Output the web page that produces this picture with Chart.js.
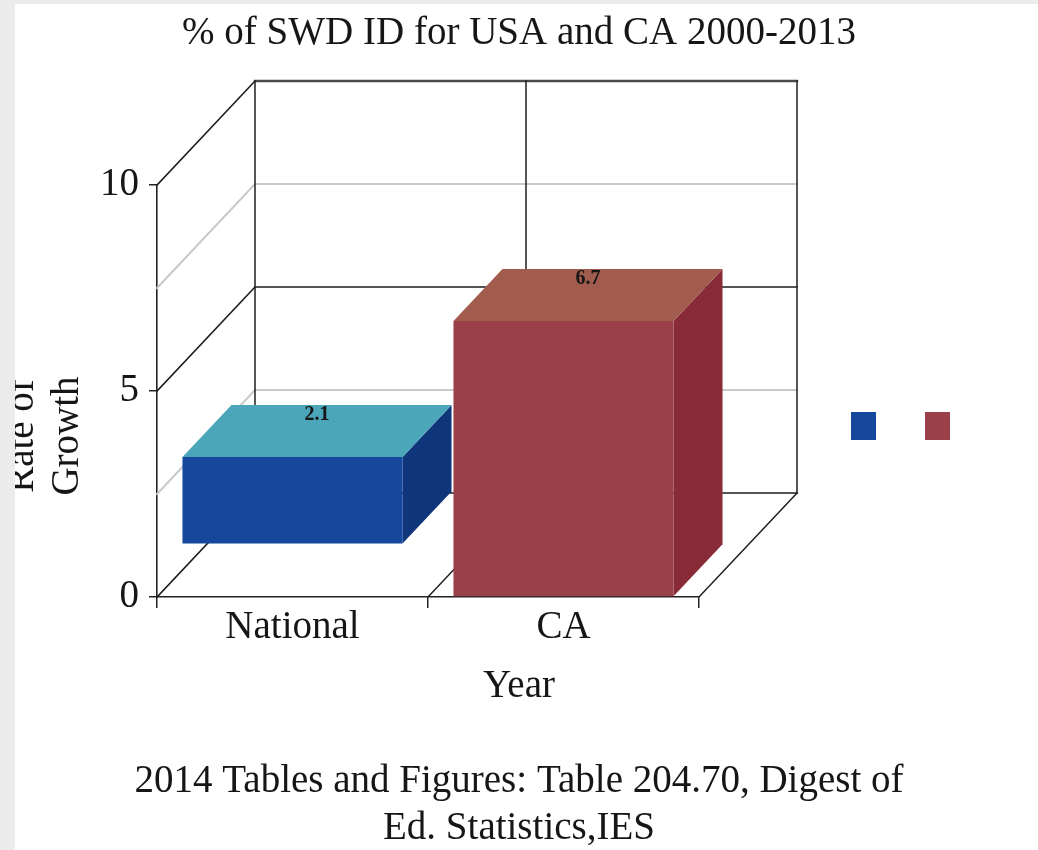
<!DOCTYPE html>
<html>
<head>
<meta charset="utf-8">
<script src="https://cdn.jsdelivr.net/npm/chart.js@4/dist/chart.umd.min.js"></script>
<style>
  html, body { margin: 0; padding: 0; background: #fff; }
  canvas { display: block; }
</style>
</head>
<body>
<canvas id="growthChart" width="1038" height="850"></canvas>
<script>
// ---- data ----
const categories = ['National', 'CA'];
const growthRate = [2.1, 6.7];
const columnStart = [1.3, 0];          // value where each column begins
const yTicks = [0, 5, 10];
const legendLabels = ['', ''];
const chartTitle = '% of SWD ID for USA and CA 2000-2013';
const yTitle = ['Rate of', 'Growth'];
const xTitle = 'Year';
const sourceNote = ['2014 Tables and Figures: Table 204.70, Digest of', 'Ed. Statistics,IES'];

// ---- styles ----
const FONT = 'Liberation Serif, Times New Roman, serif';
const INK = '#161616';
const faceColors = [
  { front: '#15489c', top: '#4aa6b8', side: '#0f357a' },
  { front: '#994049', top: '#a15c4e', side: '#882a38' }
];
const bigFont = { family: FONT, size: 39, weight: 'normal', lineHeight: 1.2 };

const datasets = categories.map((name, i) => ({
  label: legendLabels[i],
  data: categories.map((_, j) => (j === i ? [columnStart[i], columnStart[i] + growthRate[i]] : null)),
  backgroundColor: faceColors[i].front,
  borderWidth: 0,
  skipNull: true,
  categoryPercentage: 0.812,
  barPercentage: 1
}));

// Draws the box-shaped plot frame and extrudes the columns into blocks.
const box3d = {
  id: 'box3d',
  beforeDatasetsDraw(chart, args, opts) {
    const { ctx, chartArea: a, scales: { x, y } } = chart;
    const dx = opts.dx, dy = opts.dy;
    const half = (yTicks[1] - yTicks[0]) / 2;
    const y0 = y.getPixelForValue(y.min);
    const yTop = y.getPixelForValue(y.max);
    ctx.save();
    ctx.lineCap = 'square';

    // horizontal levels on side wall and back wall
    for (let v = y.min; v <= y.max + 1e-9; v += half) {
      const py = y.getPixelForValue(v);
      const major = yTicks.includes(v);
      ctx.strokeStyle = major ? opts.major : opts.minor;
      ctx.lineWidth = major ? 1.6 : 2;
      ctx.beginPath();
      ctx.moveTo(a.left, py);
      ctx.lineTo(a.left + dx, py + dy);
      ctx.lineTo(a.right + dx, py + dy);
      ctx.stroke();
    }
    // heavier top edge of the back wall
    ctx.strokeStyle = '#4a4a4a';
    ctx.lineWidth = 2.4;
    ctx.beginPath();
    ctx.moveTo(a.left + dx, yTop + dy);
    ctx.lineTo(a.right + dx, yTop + dy);
    ctx.stroke();

    // verticals of the back wall and floor edges
    const bounds = [a.left, a.right];
    for (let i = 0; i < categories.length - 1; i++) {
      bounds.push((x.getPixelForValue(i) + x.getPixelForValue(i + 1)) / 2);
    }
    ctx.strokeStyle = opts.major;
    ctx.lineWidth = 1.5;
    bounds.forEach((bx, k) => {
      ctx.beginPath();
      ctx.moveTo(bx + dx, yTop + dy);
      ctx.lineTo(bx + dx, y0 + dy);
      ctx.stroke();
      if (k > 0) {
        ctx.beginPath();
        ctx.moveTo(bx, y0);
        ctx.lineTo(bx + dx, y0 + dy);
        ctx.stroke();
      }
    });

    // top and side faces of every column
    const bdx = dx * opts.barDepth, bdy = dy * opts.barDepth;
    chart.getSortedVisibleDatasetMetas().forEach(meta => {
      const colors = faceColors[meta.index];
      meta.data.forEach((el, j) => {
        if (chart.data.datasets[meta.index].data[j] == null) return;
        const { x: cx, y: top, base, width } = el.getProps(['x', 'y', 'base', 'width'], true);
        const l = cx - width / 2, r = cx + width / 2;
        ctx.fillStyle = colors.side;
        ctx.beginPath();
        ctx.moveTo(r, top); ctx.lineTo(r + bdx, top + bdy);
        ctx.lineTo(r + bdx, base + bdy); ctx.lineTo(r, base);
        ctx.closePath(); ctx.fill();
        ctx.fillStyle = colors.top;
        ctx.beginPath();
        ctx.moveTo(l, top); ctx.lineTo(r, top);
        ctx.lineTo(r + bdx, top + bdy); ctx.lineTo(l + bdx, top + bdy);
        ctx.closePath(); ctx.fill();
      });
    });
    ctx.restore();
  },
  afterDatasetsDraw(chart, args, opts) {
    const { ctx } = chart;
    const bdx = opts.dx * opts.barDepth, bdy = opts.dy * opts.barDepth;
    ctx.save();
    ctx.fillStyle = INK;
    ctx.font = 'bold 20px ' + FONT;
    ctx.textAlign = 'center';
    ctx.textBaseline = 'middle';
    chart.getSortedVisibleDatasetMetas().forEach(meta => {
      meta.data.forEach((el, j) => {
        if (chart.data.datasets[meta.index].data[j] == null) return;
        const { x: cx, y: top } = el.getProps(['x', 'y'], true);
        ctx.fillText(growthRate[j].toFixed(1), cx + bdx / 2, top + bdy + 10);
      });
    });
    ctx.restore();
  }
};

// Axis captions, legend swatches and the page margin.
const decorations = {
  id: 'decorations',
  afterDraw(chart, args, opts) {
    const { ctx } = chart;
    ctx.save();
    ctx.fillStyle = INK;
    ctx.font = '39px ' + FONT;
    ctx.textAlign = 'center';
    ctx.textBaseline = 'middle';
    ctx.fillText(xTitle, chart.width / 2, chart.scales.x.bottom + opts.xTitleGap);
    ctx.translate(opts.yTitleX, opts.yTitleY);
    ctx.rotate(-Math.PI / 2);
    yTitle.forEach((line, i) => ctx.fillText(line, 0, i * opts.yTitleLine));
    ctx.restore();

    ctx.save();
    chart.data.datasets.forEach((ds, i) => {
      ctx.fillStyle = ds.backgroundColor;
      ctx.fillRect(opts.legendX + i * opts.legendGap, opts.legendY, opts.swatchW, opts.swatchH);
    });
    ctx.fillStyle = '#ececec';
    ctx.fillRect(0, 0, opts.marginLeft, chart.height);
    ctx.fillRect(0, 0, chart.width, opts.marginTop);
    ctx.restore();
  }
};

new Chart(document.getElementById('growthChart'), {
  type: 'bar',
  data: { labels: categories, datasets },
  options: {
    responsive: false,
    animation: false,
    devicePixelRatio: 1,
    layout: { padding: 0 },
    scales: {
      x: {
        offset: true,
        grid: { offset: true, drawOnChartArea: false, tickLength: 11, color: '#222', lineWidth: 1.5 },
        border: { color: '#222', width: 1.6 },
        ticks: { font: bigFont, color: INK, padding: -4 }
      },
      y: {
        min: 0,
        max: 10,
        afterBuildTicks: s => { s.ticks = yTicks.map(v => ({ value: v })); },
        afterFit: s => { s.width = 157; },
        grid: { drawOnChartArea: false, tickLength: 8, color: '#222', lineWidth: 1.5 },
        border: { color: '#222', width: 1.6 },
        ticks: { font: bigFont, color: INK, padding: 10 }
      },
      // empty band on the right that holds the back wall and the legend swatches
      side: {
        type: 'linear',
        position: 'right',
        afterFit: s => { s.width = 339; },
        grid: { display: false },
        border: { display: false },
        ticks: { display: false }
      }
    },
    plugins: {
      legend: { display: false },
      tooltip: { enabled: false },
      title: {
        display: true, text: chartTitle, font: bigFont, color: INK,
        padding: { top: 10, bottom: 128.2 }
      },
      subtitle: {
        display: true, position: 'bottom', text: sourceNote, font: bigFont, color: INK,
        padding: { top: 111.6, bottom: -2 }
      },
      box3d: { dx: 98, dy: -104, barDepth: 0.5, major: '#1e1e1e', minor: '#c9c9c9' },
      decorations: {
        xTitleGap: 40, yTitleX: 23, yTitleY: 436, yTitleLine: 45,
        legendX: 851, legendY: 412, legendGap: 74, swatchW: 25, swatchH: 28,
        marginLeft: 15, marginTop: 4
      }
    }
  },
  plugins: [box3d, decorations]
});
</script>
</body>
</html>
